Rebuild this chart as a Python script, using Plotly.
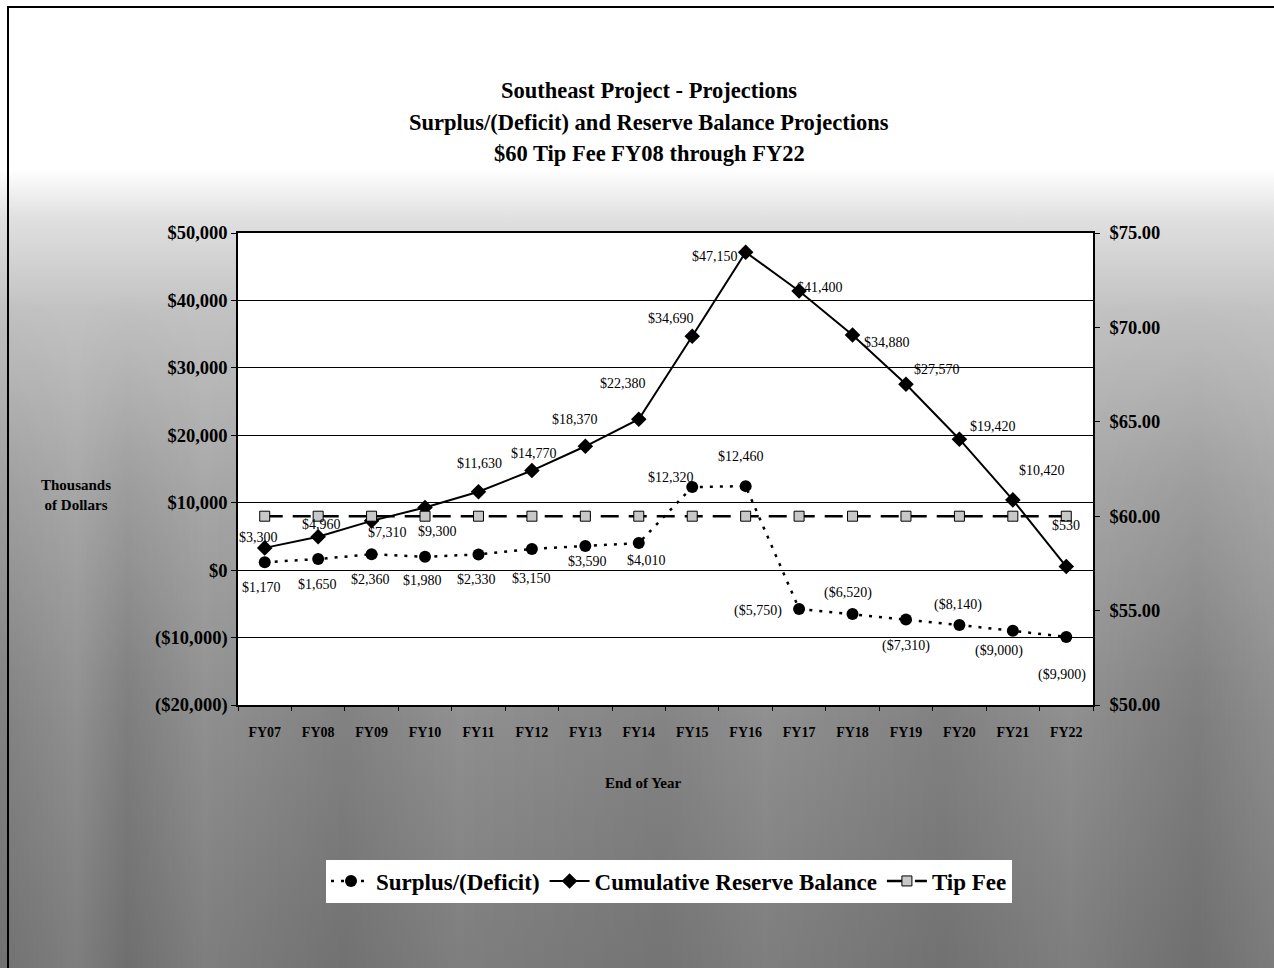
import base64
import plotly.graph_objects as go

# ---- data -------------------------------------------------------------
years = ["FY07", "FY08", "FY09", "FY10", "FY11", "FY12", "FY13", "FY14",
         "FY15", "FY16", "FY17", "FY18", "FY19", "FY20", "FY21", "FY22"]
surplus = [1170, 1650, 2360, 1980, 2330, 3150, 3590, 4010,
           12320, 12460, -5750, -6520, -7310, -8140, -9000, -9900]
reserve = [3300, 4960, 7310, 9300, 11630, 14770, 18370, 22380,
           34690, 47150, 41400, 34880, 27570, 19420, 10420, 530]
tip_fee = [60.0, 60.0, 60.0, 60.0, 60.0, 60.0, 60.0, 60.0,
           60.0, 60.0, 60.0, 60.0, 60.0, 60.0, 60.0, 60.0]
left_ticks = [-20000, -10000, 0, 10000, 20000, 30000, 40000, 50000]
right_ticks = [50, 55, 60, 65, 70, 75]

# ---- label placement (pixel offsets from each point: dx right, dy down) --
surplus_offsets = [(-3, 25), (-1, 25), (-1, 25), (-3, 24), (-2, 25), (0, 30),
                   (2, 16), (8, 17), (-21, -10), (-5, -30), (-41, 2), (-5, -21),
                   (0, 27), (-1, -20), (-14, 20), (-4, 38)]
reserve_offsets = [(-6, -10), (3, -12), (16, 12), (12, 24), (1, -28), (2, -17),
                   (-10, -27), (-16, -36), (-21, -18), (-31, 4), (21, -3), (34, 8),
                   (31, -15), (34, -13), (29, -29), (0, -41)]

SERIF = "Liberation Serif"
W, H = 1274, 968
ML, MR, MT, MB = 238, 181, 233, 263
PW, PH = W - ML - MR, H - MT - MB


def money(v):
    s = "${:,.0f}".format(abs(v))
    return "({})".format(s) if v < 0 else s


def px(xp):
    return (xp - ML) / PW


def py(yp):
    return (H - MB - yp) / PH


# background: white band at the top fading into grey toward the bottom,
# with a faint banded overlay in the lower part
svg = f"""<svg xmlns='http://www.w3.org/2000/svg' width='{W}' height='{H}' viewBox='0 0 {W} {H}' preserveAspectRatio='none'>
<defs>
<linearGradient id='g' x1='0' y1='0' x2='0' y2='1'>
<stop offset='0' stop-color='#ffffff'/>
<stop offset='0.175' stop-color='#ffffff'/>
<stop offset='0.225' stop-color='#e0e0e0'/>
<stop offset='0.32' stop-color='#c2c2c2'/>
<stop offset='0.5' stop-color='#a8a8a8'/>
<stop offset='0.75' stop-color='#8f8f8f'/>
<stop offset='1' stop-color='#7e7e7e'/>
</linearGradient>
<linearGradient id='b' x1='0' y1='0' x2='1' y2='0'>
<stop offset='0' stop-color='#000' stop-opacity='0.10'/>
<stop offset='0.06' stop-color='#000' stop-opacity='0.0'/>
<stop offset='0.10' stop-color='#000' stop-opacity='0.12'/>
<stop offset='0.16' stop-color='#000' stop-opacity='0.0'/>
<stop offset='0.27' stop-color='#000' stop-opacity='0.10'/>
<stop offset='0.36' stop-color='#000' stop-opacity='0.0'/>
<stop offset='0.52' stop-color='#000' stop-opacity='0.08'/>
<stop offset='0.60' stop-color='#000' stop-opacity='0.0'/>
<stop offset='0.74' stop-color='#000' stop-opacity='0.10'/>
<stop offset='0.84' stop-color='#000' stop-opacity='0.0'/>
<stop offset='0.94' stop-color='#000' stop-opacity='0.12'/>
<stop offset='1' stop-color='#000' stop-opacity='0.02'/>
</linearGradient>
<linearGradient id='m' x1='0' y1='0' x2='0' y2='1'>
<stop offset='0.3' stop-color='#fff' stop-opacity='0'/>
<stop offset='0.7' stop-color='#fff' stop-opacity='1'/>
</linearGradient>
<mask id='mk'><rect width='{W}' height='{H}' fill='url(#m)'/></mask>
</defs>
<rect width='{W}' height='{H}' fill='url(#g)'/>
<rect width='{W}' height='{H}' fill='url(#b)' mask='url(#mk)'/>
</svg>"""
bg_uri = "data:image/svg+xml;base64," + base64.b64encode(svg.encode()).decode()

fig = go.Figure()

fig.add_trace(go.Scatter(
    x=years, y=surplus, name="Surplus/(Deficit)", mode="lines+markers",
    line=dict(color="black", width=2.5, dash="3px,7px"),
    marker=dict(symbol="circle", size=12, color="black"),
))
fig.add_trace(go.Scatter(
    x=years, y=reserve, name="Cumulative Reserve Balance", mode="lines+markers",
    line=dict(color="black", width=2),
    marker=dict(symbol="diamond", size=12, color="black"),
))
fig.add_trace(go.Scatter(
    x=years, y=tip_fee, name="Tip Fee", mode="lines+markers", yaxis="y2",
    line=dict(color="black", width=2.5, dash="18px,10px"),
    marker=dict(symbol="square", size=10, color="#c8c8c8",
                line=dict(color="black", width=1)),
))

annotations = []
for yr, v, (dx, dy) in zip(years, surplus, surplus_offsets):
    annotations.append(dict(x=yr, y=v, xref="x", yref="y", text=money(v),
                            showarrow=False, xshift=dx, yshift=-dy,
                            font=dict(family=SERIF, size=14, color="black")))
for yr, v, (dx, dy) in zip(years, reserve, reserve_offsets):
    annotations.append(dict(x=yr, y=v, xref="x", yref="y", text=money(v),
                            showarrow=False, xshift=dx, yshift=-dy,
                            font=dict(family=SERIF, size=14, color="black")))

title_lines = ["Southeast Project - Projections",
               "Surplus/(Deficit) and Reserve Balance Projections",
               "$60 Tip Fee FY08 through FY22"]
for i, t in enumerate(title_lines):
    annotations.append(dict(x=px(649), y=py(90 + 32 * i), xref="paper", yref="paper",
                            text=t, showarrow=False, xanchor="center", yanchor="middle",
                            font=dict(family=SERIF, size=22.5, color="black", weight="bold")))

annotations.append(dict(x=px(76), y=py(495), xref="paper", yref="paper",
                        text="Thousands<br>of Dollars", showarrow=False,
                        align="center", xanchor="center", yanchor="middle",
                        font=dict(family=SERIF, size=15, color="black", weight="bold")))
annotations.append(dict(x=px(643), y=py(783), xref="paper", yref="paper",
                        text="End of Year", showarrow=False,
                        xanchor="center", yanchor="middle",
                        font=dict(family=SERIF, size=15, color="black", weight="bold")))

shapes = [
    # white plotting area on top of the background
    dict(type="rect", xref="paper", yref="paper", x0=0, x1=1, y0=0, y1=1,
         fillcolor="white", line=dict(width=0), layer="below"),
    # outer frame
    dict(type="rect", xref="paper", yref="paper", x0=px(8), x1=px(1290),
         y0=py(990), y1=py(7), line=dict(color="black", width=2), layer="above"),
]

axis_font = dict(family=SERIF, size=18.5, color="black", weight="bold")

fig.update_layout(
    width=W, height=H,
    margin=dict(l=ML, r=MR, t=MT, b=MB, pad=0),
    paper_bgcolor="white", plot_bgcolor="white",
    showlegend=True,
    legend=dict(orientation="h", x=px(669), y=py(881), xanchor="center", yanchor="middle",
                bgcolor="white", borderwidth=0,
                font=dict(family=SERIF, size=23, color="black", weight="bold"),
                itemwidth=40, tracegroupgap=0),
    images=[dict(source=bg_uri, xref="paper", yref="paper", x=px(0), y=py(0),
                 sizex=W / PW, sizey=H / PH, xanchor="left", yanchor="top",
                 sizing="stretch", layer="below")],
    shapes=shapes,
    annotations=annotations,
    xaxis=dict(
        type="category", range=[-0.5, 15.5], showgrid=False, zeroline=False,
        showline=True, linecolor="black", linewidth=1.5, mirror=True,
        ticks="outside", tickson="boundaries", ticklen=4, tickcolor="black",
        ticklabelstandoff=13,
        tickfont=dict(family=SERIF, size=14, color="black", weight="bold"),
    ),
    yaxis=dict(
        range=[-20000, 50000], tickvals=left_ticks,
        ticktext=[money(v) for v in left_ticks],
        showgrid=True, gridcolor="black", gridwidth=1, zeroline=False,
        showline=True, linecolor="black", linewidth=1.5,
        ticks="outside", ticklen=5, tickcolor="black",
        tickfont=axis_font,
    ),
    yaxis2=dict(
        overlaying="y", side="right", range=[50, 75], tickvals=right_ticks,
        ticktext=["${:.2f}".format(v) for v in right_ticks],
        showgrid=False, zeroline=False,
        showline=True, linecolor="black", linewidth=1.5,
        ticks="outside", ticklen=5, tickcolor="black", ticklabelstandoff=6,
        tickfont=axis_font,
    ),
)

fig.write_html("out.html")
